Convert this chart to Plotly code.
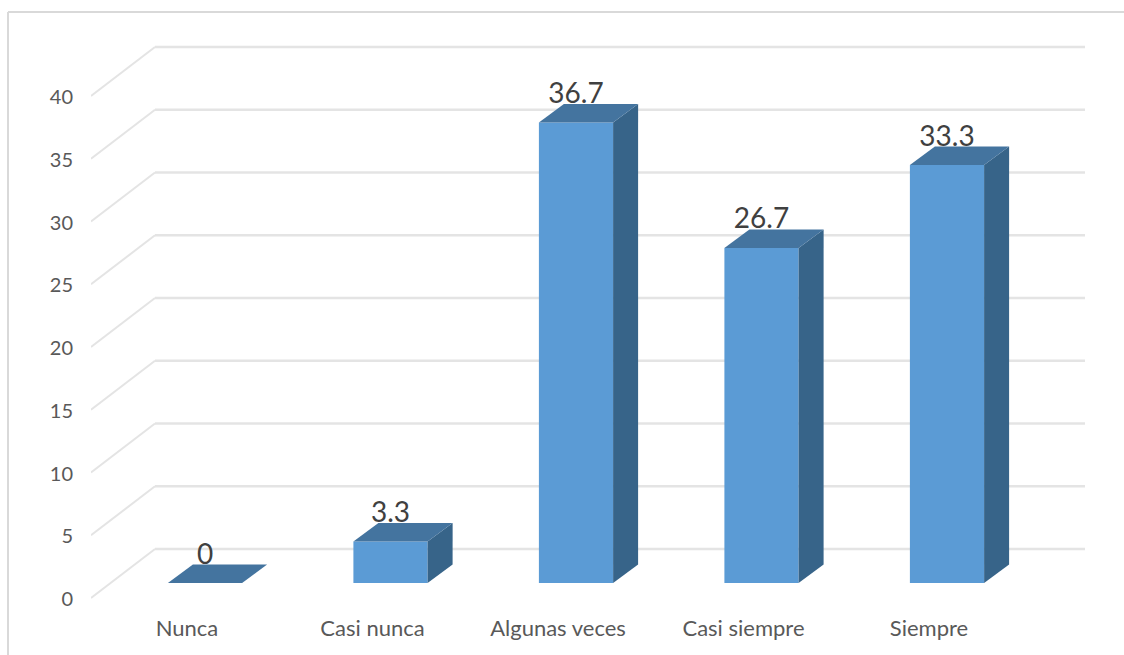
import plotly.graph_objects as go

categories = ["Nunca", "Casi nunca", "Algunas veces", "Casi siempre", "Siempre"]
values = [0, 3.3, 36.7, 26.7, 33.3]
value_labels = ["0", "3.3", "36.7", "26.7", "33.3"]
y_ticks = [0, 5, 10, 15, 20, 25, 30, 35, 40]

W, H = 1124, 655
ML, MB = 91, 43
PX_X = 185.5      # pixels per category
PX_Y = 12.55      # pixels per unit
X0_PX, Y0_PX = 205, 583   # pixel position of the first category / value 0 on the bar plane
BAR_W = 0.40
DX, DY = 25 / PX_X, 18.5 / PX_Y   # bar depth in axis units
WALL_DX, WALL_DY = 64 / PX_X, 34 / PX_Y   # wall back offset from bar plane
FRONT_DY = -15 / PX_Y
LABEL_DROP = 6 / PX_Y
plot_h = H - MB
x_range = [-(X0_PX - ML) / PX_X, (W - X0_PX) / PX_X]
y_range = [-(H - MB - Y0_PX) / PX_Y, Y0_PX / PX_Y]
y_shift = (599 - Y0_PX) / PX_Y
y2_range = [y_range[0] + y_shift, y_range[1] + y_shift]
x_shift = 18 / PX_X
x2_range = [x_range[0] + x_shift, x_range[1] + x_shift]

FRONT, TOP, SIDE = "#5B9BD5", "#44749F", "#376489"
GRID = "#E4E4E4"

xs = list(range(len(categories)))
fig = go.Figure()
fig.add_trace(go.Bar(x=xs, y=values, width=BAR_W, marker=dict(color=FRONT, line=dict(width=0)),
                     hoverinfo="skip", showlegend=False))

for x, v in zip(xs, values):
    l, r = x - BAR_W / 2, x + BAR_W / 2
    fig.add_trace(go.Scatter(x=[r, r + DX, r + DX, r, r], y=[0, DY, v + DY, v, 0], mode="lines",
                             fill="toself", fillcolor=SIDE, line=dict(width=0),
                             hoverinfo="skip", showlegend=False))
    fig.add_trace(go.Scatter(x=[l, r, r + DX, l + DX, l], y=[v, v, v + DY, v + DY, v], mode="lines",
                             fill="toself", fillcolor=TOP, line=dict(width=0),
                             hoverinfo="skip", showlegend=False))

fig.add_trace(go.Scatter(x=xs, y=[v + DY - LABEL_DROP for v in values], mode="text", text=value_labels,
                         textposition="top center",
                         textfont=dict(family="Lato", size=28, color="#404040"),
                         hoverinfo="skip", showlegend=False))

# invisible trace that keeps the shifted tick-label axes alive
fig.add_trace(go.Scatter(x=xs + xs[-1:] * (len(y_ticks) - len(xs)), y=y_ticks, xaxis="x2", yaxis="y2", mode="lines",
                         line=dict(width=0), opacity=0, hoverinfo="skip", showlegend=False))

shapes = []
x_wall = x_range[0] + WALL_DX
x_end = (1085 - X0_PX) / PX_X
for t in y_ticks:
    y_wall = t + WALL_DY
    shapes.append(dict(type="line", xref="x", yref="y", layer="below", x0=x_wall, x1=x_end,
                       y0=y_wall, y1=y_wall, line=dict(color=GRID, width=2.5)))
    shapes.append(dict(type="line", xref="x", yref="y", layer="below", x0=x_range[0], x1=x_wall,
                       y0=t + FRONT_DY, y1=y_wall, line=dict(color=GRID, width=2)))

plot_w = W - ML
fx = (8 - ML) / plot_w
fy_top = (plot_h - 12) / plot_h
fy_bot = (plot_h - H) / plot_h
for a in (dict(x0=fx, x1=fx, y0=fy_bot, y1=fy_top), dict(x0=fx, x1=(W - ML) / plot_w, y0=fy_top, y1=fy_top)):
    shapes.append(dict(type="line", xref="paper", yref="paper", layer="below",
                       line=dict(color="#D9D9D9", width=2), **a))

hidden = dict(showgrid=False, zeroline=False, showline=False, ticks="")
fig.update_layout(
    width=W, height=H, margin=dict(l=ML, r=0, t=0, b=MB, pad=0),
    paper_bgcolor="white", plot_bgcolor="white", showlegend=False, shapes=shapes,
    xaxis=dict(range=x_range, showticklabels=False, **hidden),
    xaxis2=dict(range=x2_range, overlaying="x", side="bottom", tickvals=xs, ticktext=categories,
                ticklabelstandoff=1, tickfont=dict(family="Lato", size=22, color="#595959"), **hidden),
    yaxis=dict(range=y_range, showticklabels=False, **hidden),
    yaxis2=dict(range=y2_range, overlaying="y", side="left", tickvals=y_ticks, ticklabelstandoff=17,
                tickfont=dict(family="Lato", size=20, color="#595959"), **hidden),
)
fig.write_html("out.html", config=dict(displayModeBar=False),
               post_script="document.body.style.margin='0';document.body.style.overflow='hidden';")
